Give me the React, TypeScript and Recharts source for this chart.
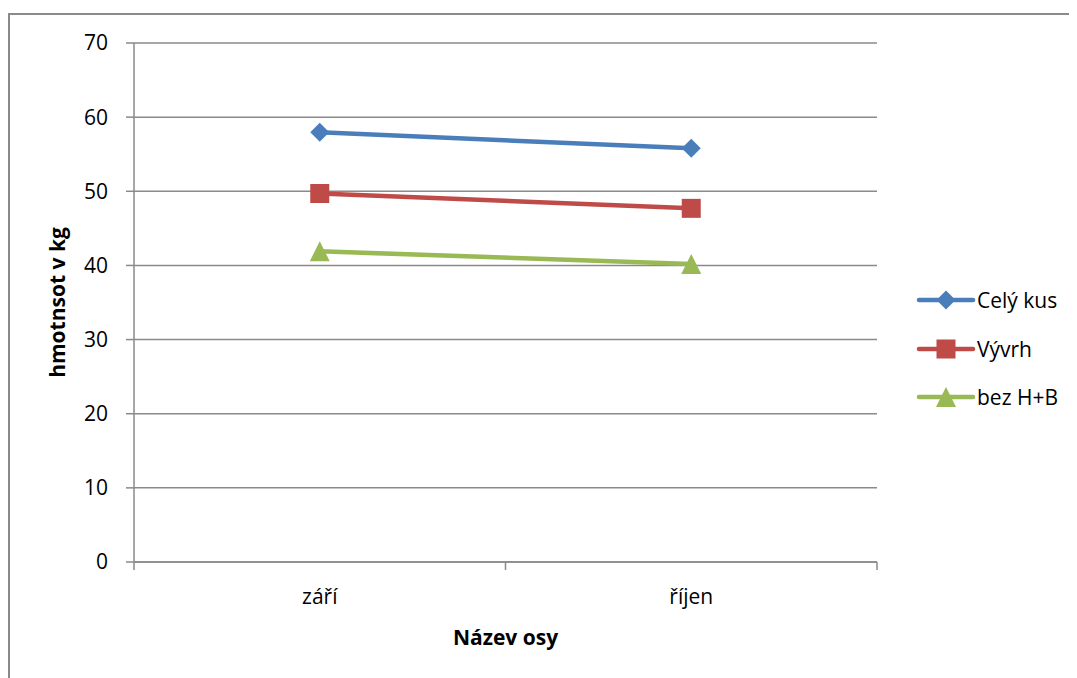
import React from 'react';
import { LineChart, Line, XAxis, YAxis, CartesianGrid } from 'recharts';

const categories = ['září', 'říjen'];
const celyKus = [57.95, 55.8];
const vyvrh = [49.7, 47.7];
const bezHB = [41.9, 40.2];
const yTicks = [0, 10, 20, 30, 40, 50, 60, 70];

const data = categories.map((c, i) => ({ cat: c, cely: celyKus[i], vyvrh: vyvrh[i], bez: bezHB[i] }));

const FONT = '"Open Sans", sans-serif';
const FS = 21;
const GRID = '#8a8a8a';
const TS = 8;
const TM = 19;

const Diamond = (props: any) => {
  const { cx, cy, fill } = props;
  if (cx == null || cy == null) return null;
  const r = 9.5;
  return <polygon points={`${cx},${cy - r} ${cx + r},${cy} ${cx},${cy + r} ${cx - r},${cy}`} fill={fill} />;
};
const Square = (props: any) => {
  const { cx, cy, fill } = props;
  if (cx == null || cy == null) return null;
  const h = 9.5;
  return <rect x={cx - h} y={cy - h} width={h * 2} height={h * 2} fill={fill} />;
};
const Triangle = (props: any) => {
  const { cx, cy, fill } = props;
  if (cx == null || cy == null) return null;
  const h = 10;
  return <polygon points={`${cx},${cy - h} ${cx + h},${cy + h} ${cx - h},${cy + h}`} fill={fill} />;
};

const series = [
  { key: 'cely', name: 'Celý kus', color: '#4A7EBB', Marker: Diamond },
  { key: 'vyvrh', name: 'Vývrh', color: '#BE4B48', Marker: Square },
  { key: 'bez', name: 'bez H+B', color: '#98B954', Marker: Triangle },
];

const XTick = (p: any) => {
  const { x, y, payload, index, visibleTicksCount } = p;
  const off = payload && typeof payload.offset === 'number' ? payload.offset : 0;
  const axisY = y - TS - TM;
  const last = index === (visibleTicksCount ?? categories.length) - 1;
  return (
    <g>
      {off > 0 && <line x1={x - off} x2={x - off} y1={axisY} y2={axisY + TS} stroke={GRID} strokeWidth={1.5} />}
      {off > 0 && last && <line x1={x + off} x2={x + off} y1={axisY} y2={axisY + TS} stroke={GRID} strokeWidth={1.5} />}
      <text x={x} y={y} dy="0.71em" textAnchor="middle" fill="#000" fontSize={FS} fontFamily={FONT}>
        {payload.value}
      </text>
    </g>
  );
};

const LegendBox = () => (
  <div style={{ position: 'absolute', left: 907, top: 261, fontFamily: FONT, fontSize: FS, color: '#000' }}>
    {series.map((s) => {
      const M = s.Marker;
      return (
        <div key={s.key} style={{ display: 'flex', alignItems: 'center', height: 48.5 }}>
          <svg width={58} height={24} style={{ overflow: 'visible' }}>
            <line x1={2} y1={12} x2={56} y2={12} stroke={s.color} strokeWidth={4.5} strokeLinecap="round" />
            <M cx={29} cy={12} fill={s.color} />
          </svg>
          <span style={{ marginLeft: 2 }}>{s.name}</span>
        </div>
      );
    })}
  </div>
);

export default function App() {
  return (
    <div style={{ paddingTop: 5 }}>
      <style>{`body{overflow:hidden}`}</style>
      <div style={{ position: 'relative', borderTop: `2px solid ${GRID}`, borderLeft: `2px solid ${GRID}`, width: 1067, height: 663 }}>
        <LineChart width={1067} height={663} data={data} margin={{ top: 28, right: 200, bottom: 26, left: 24 }}>
          <CartesianGrid vertical={false} stroke={GRID} strokeWidth={1.5} />
          <XAxis
            dataKey="cat"
            scale="band"
            tickLine={false}
            axisLine={{ stroke: GRID, strokeWidth: 1.5 }}
            tickSize={TS}
            tickMargin={TM}
            tick={<XTick />}
            height={90}
            label={{ value: 'Název osy', position: 'insideBottom', offset: 7, fill: '#000', fontSize: FS, fontWeight: 'bold', fontFamily: FONT }}
          />
          <YAxis
            domain={[0, 70]}
            ticks={yTicks}
            width={100}
            tickSize={8}
            tickMargin={18}
            tickLine={{ stroke: GRID, strokeWidth: 1.5 }}
            axisLine={{ stroke: GRID, strokeWidth: 1.5 }}
            tick={{ fill: '#000', fontSize: FS, fontFamily: FONT }}
            label={{ value: 'hmotnsot v kg', angle: -90, position: 'insideLeft', offset: 24, fill: '#000', fontSize: FS, fontWeight: 'bold', fontFamily: FONT, style: { textAnchor: 'middle' } }}
          />
          {series.map((s) => (
            <Line
              key={s.key}
              dataKey={s.key}
              name={s.name}
              stroke={s.color}
              strokeWidth={4.5}
              dot={(p: any) => <s.Marker key={`${s.key}-${p.index}`} cx={p.cx} cy={p.cy} fill={s.color} />}
              activeDot={false}
              isAnimationActive={false}
            />
          ))}
        </LineChart>
        <LegendBox />
      </div>
    </div>
  );
}
